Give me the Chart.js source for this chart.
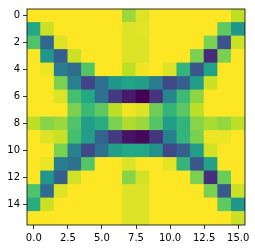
<!DOCTYPE html>
<html>
<head>
<meta charset="utf-8">
<script src="https://cdn.jsdelivr.net/npm/chart.js@4/dist/chart.umd.min.js"></script>
<style>
  html, body { margin: 0; padding: 0; background: #fff; }
  #wrap { width: 255px; height: 248px; }
</style>
</head>
<body>
<div id="wrap"><canvas id="heat"></canvas></div>
<script>
// valeurs de la matrice 16x16 (0 = violet foncé, 1 = jaune)
const rows = [
  [1, 1, 1, 1, 1, 1, 1, 0.85, 0.95, 1, 1, 1, 1, 1, 1, 0.9],
  [0.6, 0.92, 1, 1, 1, 1, 1, 0.95, 0.96, 1, 1, 1, 1, 1, 0.75, 0.52],
  [0.72, 0.33, 0.95, 1, 1, 1, 1, 0.95, 0.95, 1, 1, 1, 1, 0.8, 0.25, 0.92],
  [1, 0.52, 0.3, 0.92, 1, 1, 1, 0.95, 0.95, 1, 1, 1, 0.8, 0.12, 0.8, 1],
  [1, 0.97, 0.42, 0.35, 0.73, 1, 1, 0.9, 0.98, 1, 0.95, 0.65, 0.27, 0.58, 1, 1],
  [1, 1, 0.8, 0.43, 0.2, 0.37, 0.52, 0.58, 0.55, 0.42, 0.22, 0.3, 0.55, 0.92, 1, 1],
  [1, 1, 0.95, 0.7, 0.6, 0.37, 0.17, 0.07, 0, 0.15, 0.45, 0.68, 0.83, 1, 1, 1],
  [1, 1, 1, 0.8, 0.67, 0.75, 0.9, 0.98, 0.95, 0.78, 0.65, 0.74, 0.9, 1, 1, 1],
  [0.9, 0.82, 0.85, 0.72, 0.55, 0.62, 0.8, 0.88, 0.85, 0.73, 0.55, 0.65, 0.82, 0.87, 0.84, 0.9],
  [1, 0.95, 0.92, 0.7, 0.55, 0.32, 0.17, 0.05, 0.02, 0.15, 0.43, 0.65, 0.8, 0.98, 0.97, 1],
  [1, 1, 0.8, 0.43, 0.22, 0.37, 0.55, 0.6, 0.6, 0.5, 0.22, 0.3, 0.55, 0.93, 1, 1],
  [1, 0.97, 0.42, 0.37, 0.73, 1, 1, 0.95, 1, 1, 0.96, 0.65, 0.27, 0.57, 1, 1],
  [1, 0.52, 0.3, 0.93, 1, 1, 1, 0.82, 0.93, 1, 1, 1, 0.8, 0.13, 0.77, 1],
  [0.72, 0.35, 0.95, 1, 1, 1, 1, 0.95, 0.95, 1, 1, 1, 1, 0.8, 0.28, 0.92],
  [0.62, 0.92, 1, 1, 1, 1, 1, 0.95, 0.95, 1, 1, 1, 1, 1, 0.75, 0.52],
  [1, 1, 1, 1, 1, 1, 1, 0.95, 0.95, 1, 1, 1, 1, 1, 1, 0.92]
];
const xTicks = [0, 2.5, 5, 7.5, 10, 12.5, 15];
const yTicks = [0, 2, 4, 6, 8, 10, 12, 14];

// viridis
const viridis = ['#440154', '#482475', '#414487', '#355f8d', '#2a788e', '#21918c',
                 '#22a884', '#44bf70', '#7ad151', '#bddf26', '#fde725'];
function hexRgb(h) {
  return [parseInt(h.substr(1, 2), 16), parseInt(h.substr(3, 2), 16), parseInt(h.substr(5, 2), 16)];
}
function cmap(v) {
  v = Math.max(0, Math.min(1, v));
  let p = v * 10;
  let i = Math.min(9, Math.floor(p));
  let t = p - i;
  let a = hexRgb(viridis[i]), b = hexRgb(viridis[i + 1]);
  let c = a.map((x, k) => Math.round(x + (b[k] - x) * t));
  return `rgb(${c[0]},${c[1]},${c[2]})`;
}

// cellules en barres flottantes
let cells = [];
let colors = [];
for (let i = 0; i < rows.length; i++) {
  for (let j = 0; j < rows[i].length; j++) {
    cells.push({ x: j, y: [i - 0.5, i + 0.5] });
    colors.push(cmap(rows[i][j]));
  }
}

const frame = {
  id: 'frame',
  afterDraw(chart) {
    const a = chart.chartArea;
    const ctx = chart.ctx;
    ctx.save();
    ctx.strokeStyle = '#000';
    ctx.lineWidth = 0.8;
    ctx.strokeRect(a.left, a.top, a.right - a.left, a.bottom - a.top);
    ctx.restore();
  }
};

const tickFont = { family: 'DejaVu Sans', size: 10 };

new Chart(document.getElementById('heat'), {
  type: 'bar',
  data: {
    datasets: [{
      data: cells,
      backgroundColor: colors,
      borderWidth: 0,
      inflateAmount: 0.4,
      barPercentage: 1,
      categoryPercentage: 1
    }]
  },
  options: {
    responsive: true,
    maintainAspectRatio: false,
    animation: false,
    layout: { padding: { top: 6, right: 10, left: 0, bottom: 0 } },
    plugins: { legend: { display: false }, tooltip: { enabled: false } },
    scales: {
      x: {
        type: 'linear',
        min: -0.5,
        max: 15.5,
        offset: false,
        afterBuildTicks: s => { s.ticks = xTicks.map(v => ({ value: v })); },
        afterFit: s => { s.height = 23; },
        ticks: { font: tickFont, color: '#000', padding: 3, maxRotation: 0,
                 callback: v => Number(v).toFixed(1) },
        grid: { offset: false, drawOnChartArea: false, drawTicks: true, tickLength: 4, color: '#000', lineWidth: 0.8 },
        border: { display: false }
      },
      y: {
        type: 'linear',
        reverse: true,
        min: -0.5,
        max: 15.5,
        afterBuildTicks: s => { s.ticks = yTicks.map(v => ({ value: v })); },
        afterFit: s => { s.width = 27; },
        ticks: { font: tickFont, color: '#000', padding: 3,
                 callback: v => String(v) },
        grid: { drawOnChartArea: false, drawTicks: true, tickLength: 4, color: '#000', lineWidth: 0.8 },
        border: { display: false }
      }
    }
  },
  plugins: [frame]
});
</script>
</body>
</html>
